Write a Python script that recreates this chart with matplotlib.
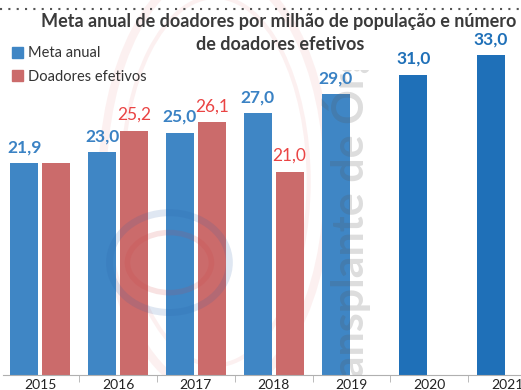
import matplotlib.pyplot as plt
import numpy as np
from matplotlib.patches import Ellipse, Patch, Rectangle

plt.rcParams['font.family'] = ['Lato', 'DejaVu Sans']

# Metas anuais e doadores efetivos (pmp)
anos = ["2015", "2016", "2017", "2018", "2019", "2020", "2021"]
meta = [21.9, 23.0, 25.0, 27.0, 29.0, 31.0, 33.0]
efetivos = [21.9, 25.2, 26.1, 21.0]
# 2015: o rótulo de 21,9 já aparece na barra da meta
rotulo_efetivos = [False, True, True, True]

azul = "#3f86c5"
azul_escuro = "#1f70b8"
vermelho = "#cb6b6b"
txt_azul = "#3a82c4"
txt_verm = "#ea4444"

fig = plt.figure(figsize=(5.21, 3.9), dpi=100)
ax = fig.add_axes([3 / 521, 15 / 390, 518 / 521, 375 / 390])

x = np.arange(len(anos))
w = 0.36
off = 0.205

cores = [azul] * 5 + [azul_escuro] * 2
cores_txt = [txt_azul] * 5 + [azul_escuro] * 2
b1 = ax.bar(x - off, meta, w, color=cores, zorder=2)
b2 = ax.bar(x[:len(efetivos)] + off, efetivos, w, color=vermelho, zorder=2)

for r, v, c in zip(b1, meta, cores_txt):
    ax.text(r.get_x() + r.get_width() / 2, v + 0.8, f"{v:.1f}".replace(".", ","),
            ha="center", va="bottom", fontsize=12.5, fontweight="bold", color=c, zorder=4)
for r, v, mostra in zip(b2, efetivos, rotulo_efetivos):
    if mostra:
        ax.text(r.get_x() + r.get_width() / 2, v + 0.8, f"{v:.1f}".replace(".", ","),
                ha="center", va="bottom", fontsize=12.5, color=txt_verm, zorder=4)

# marca d'agua
ax.add_patch(Ellipse((2.25, 20), 2.9, 44, fill=False, lw=6, ec="#e88a8a", alpha=0.12, zorder=1))
ax.add_patch(Ellipse((2.25, 20), 2.4, 38, fill=False, lw=3, ec="#e88a8a", alpha=0.12, zorder=1))
ax.add_patch(Ellipse((1.66, 11.6), 1.54, 10.3, fill=False, lw=5, ec="#2a5ea8", alpha=0.15, zorder=3))
ax.add_patch(Ellipse((1.66, 11.6), 1.08, 6.2, fill=False, lw=4, ec="#d04040", alpha=0.15, zorder=3))
wm = ax.text(3.95, -4.5, "Transplante de Órgãos", rotation=90, ha="center", va="bottom",
             fontsize=31, fontweight="bold", color="#555555", alpha=0.2, zorder=3)
recorte = Rectangle((-1, 0), 10, 31.5, transform=ax.transData, fill=False, lw=0)
wm.set_clip_path(recorte)
wm.set_clip_on(True)

ax.set_xlim(-0.48, 6.18)
ax.set_ylim(0, 38.7)
ax.set_yticks([])
ax.set_xticks(x)
ax.set_xticklabels(anos, fontsize=10, color="#222222")
ax.set_xticks(x[:-1] + 0.5, minor=True)
ax.tick_params(axis="x", which="major", length=0, pad=3)
ax.tick_params(axis="x", which="minor", length=5, color="#b0b0b0", direction="out")
for s in ["top", "right", "left"]:
    ax.spines[s].set_visible(False)
ax.spines["bottom"].set_color("#b0b0b0")

leg = ax.legend(handles=[Patch(color=azul, label="Meta anual"),
                         Patch(color=vermelho, label="Doadores efetivos")],
                loc="upper left", bbox_to_anchor=(0.0, 0.9), frameon=False,
                fontsize=10.5, handlelength=0.8, handleheight=0.8, handletextpad=0.3,
                labelspacing=0.65, borderaxespad=0.2)
for t in leg.get_texts():
    t.set_color("#333333")

fig.text(279 / 521, 1 - 21 / 390, "Meta anual de doadores por milhão de população e número",
         ha="center", va="center", fontsize=13, fontweight="bold", color="#3a3a3a")
fig.text(280 / 521, 1 - 45 / 390, "de doadores efetivos",
         ha="center", va="center", fontsize=13, fontweight="bold", color="#3a3a3a")

# linha pontilhada do cabeçalho
fig.add_artist(plt.Line2D([0, 1], [1 - 9 / 390, 1 - 9 / 390], transform=fig.transFigure,
                          ls=(0, (1, 3)), lw=1.5, color="#555555"))

fig.savefig("out.png", dpi=100)
